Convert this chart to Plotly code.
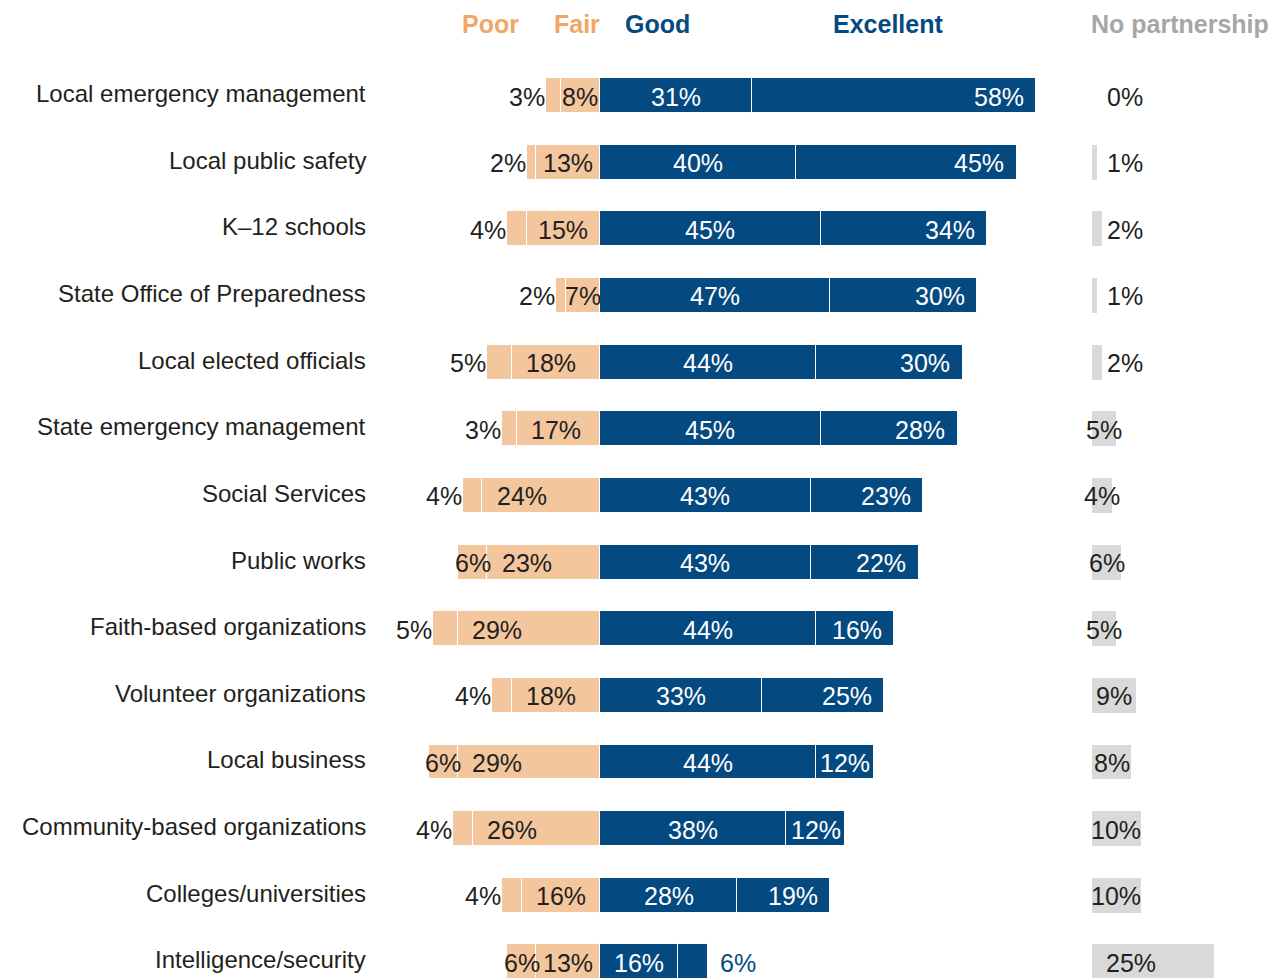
import plotly.graph_objects as go

# Partnership quality ratings by partner type (percent of respondents)
categories = [
    "Local emergency management",
    "Local public safety",
    "K\u201312 schools",
    "State Office of Preparedness",
    "Local elected officials",
    "State emergency management",
    "Social Services",
    "Public works",
    "Faith-based organizations",
    "Volunteer organizations",
    "Local business",
    "Community-based organizations",
    "Colleges/universities",
    "Intelligence/security",
]
poor = [3, 2, 4, 2, 5, 3, 4, 6, 5, 4, 6, 4, 4, 6]
fair = [8, 13, 15, 7, 18, 17, 24, 23, 29, 18, 29, 26, 16, 13]
good = [31, 40, 45, 47, 44, 45, 43, 43, 44, 33, 44, 38, 28, 16]
excellent = [58, 45, 34, 30, 30, 28, 23, 22, 16, 25, 12, 12, 19, 6]
no_partnership = [0, 1, 2, 1, 2, 5, 4, 6, 5, 9, 8, 10, 10, 25]

PEACH = "#F4C69D"
ORANGE = "#F0A766"
BLUE = "#044A81"
GRAY = "#D9D9D9"
GRAY_TXT = "#A6A6A6"
DARK = "#231F20"
FONT = "Liberation Sans, Arial, sans-serif"

NONE_BASE = 100.4    # the "No partnership" column sits to the right on the same scale
BAR_W = 0.525
LABEL_SIZE = 24
VAL_SIZE = 25
HEAD_SIZE = 25

rows = list(range(len(categories)))
edge = dict(color="white", width=1)

fig = go.Figure()
fig.add_bar(y=rows, x=[-v for v in fair], orientation="h", width=BAR_W,
            marker=dict(color=PEACH, line=edge), name="Fair")
fig.add_bar(y=rows, x=[-v for v in poor], orientation="h", width=BAR_W,
            marker=dict(color=PEACH, line=edge), name="Poor")
fig.add_bar(y=rows, x=good, orientation="h", width=BAR_W,
            marker=dict(color=BLUE, line=edge), name="Good")
fig.add_bar(y=rows, x=excellent, orientation="h", width=BAR_W,
            marker=dict(color=BLUE, line=edge), name="Excellent")
fig.add_bar(y=rows, x=no_partnership, base=NONE_BASE, orientation="h", width=BAR_W,
            marker=dict(color=GRAY, line=dict(width=0)), name="No partnership")

ann = []


def label(x, y, text, color=DARK, anchor="center", xshift=0):
    ann.append(dict(x=x, y=y, xref="x", yref="y", text=text, showarrow=False,
                    xanchor=anchor, yanchor="middle", xshift=xshift, yshift=-1,
                    font=dict(family=FONT, size=VAL_SIZE, color=color)))


for i in rows:
    # row name, right aligned against the bars
    ann.append(dict(x=-48.0, y=i, xref="x", yref="y", text=categories[i],
                    showarrow=False, xanchor="right", yanchor="middle",
                    xshift=3, yshift=2,
                    font=dict(family=FONT, size=LABEL_SIZE, color=DARK)))
    p, f, g, e, n = poor[i], fair[i], good[i], excellent[i], no_partnership[i]
    # poor
    if p >= 6:
        label(-(f + p / 2), i, f"{p}%")
    else:
        label(-(f + p), i, f"{p}%", anchor="right", xshift=1)
    # fair
    label(-f + min(f / 2, 8), i, f"{f}%")
    # good
    label(g / 2, i, f"{g}%", color="white")
    # excellent
    if e >= 10:
        label(g + e - min(e / 2, 7.6), i, f"{e}%", color="white")
    else:
        label(g + e, i, f"{e}%", color=BLUE, anchor="left", xshift=10)
    # no partnership
    if n < 3:
        label(NONE_BASE + 3.3, i, f"{n}%", anchor="left", xshift=-3)
    else:
        label(NONE_BASE + min(n / 2, 8), i, f"{n}%")

headers = [("Poor", 490, ORANGE, "center"), ("Fair", 577, ORANGE, "center"),
           ("Good", 657, BLUE, "center"), ("Excellent", 888, BLUE, "center"),
           ("No partnership", 1089, GRAY_TXT, "left")]
for text, px, color, anchor in headers:
    ann.append(dict(x=px / 1276, y=1 - 24 / 978, xref="paper", yref="paper",
                    text=f"<b>{text}</b>", showarrow=False, xanchor=anchor,
                    yanchor="middle",
                    font=dict(family=FONT, size=HEAD_SIZE, color=color)))

fig.update_layout(
    width=1276, height=978,
    margin=dict(l=0, r=0, t=0, b=0),
    barmode="relative",
    bargap=0,
    showlegend=False,
    plot_bgcolor="white",
    paper_bgcolor="white",
    annotations=ann,
    xaxis=dict(range=[-122.45, 137.96], visible=False, showgrid=False, zeroline=False),
    yaxis=dict(range=[13.241, -1.433], visible=False, showgrid=False, zeroline=False),
)

fig.write_html("out.html")
